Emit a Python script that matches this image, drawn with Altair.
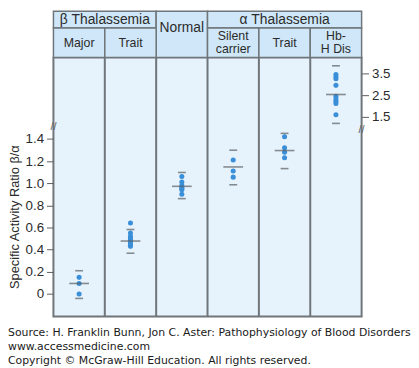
import altair as alt
import pandas as pd

# ---- data ----
columns = ["Major", "Trait", "Normal", "Silent carrier", "Trait", "Hb-H Dis"]

major = [0.15, 0.095, 0.0]
beta_trait = [0.64, 0.55, 0.52, 0.50, 0.49, 0.48, 0.47, 0.46, 0.44, 0.43]
normal = [1.06, 1.01, 0.98, 0.96, 0.95, 0.94, 0.90]
silent_carrier = [1.21, 1.11, 1.055]
alpha_trait = [1.42, 1.32, 1.28, 1.23]
hbh_dis = [3.45, 3.35, 3.25, 2.95, 2.45, 2.32, 2.22, 2.12, 1.6]

means = [0.095, 0.478, 0.972, 1.147, 1.295, 2.53]
upper = [0.21, 0.582, 1.097, 1.298, 1.45, 3.85]
lower = [-0.04, 0.368, 0.861, 0.986, 1.132, 1.2]

left_ticks = [0, 0.2, 0.4, 0.6, 0.8, 1.0, 1.2, 1.4]
right_ticks = [1.5, 2.5, 3.5]

header_labels = ["β Thalassemia", "Normal", "α Thalassemia", "Major", "Trait",
                 "Silent\ncarrier", "Trait", "Hb-\nH Dis"]
header_col_start = [0, 2, 3, 0, 1, 3, 4, 5]
header_col_end = [2, 3, 6, 1, 2, 4, 5, 6]
header_row_start = [0, 0, 0, 1, 1, 1, 1, 1]
header_row_end = [1, 2, 1, 2, 2, 2, 2, 2]

source_lines = [
    "Source: H. Franklin Bunn, Jon C. Aster: Pathophysiology of Blood Disorders",
    "www.accessmedicine.com",
    "Copyright © McGraw-Hill Education. All rights reserved.",
]

# ---- tables ----
series = [major, beta_trait, normal, silent_carrier, alpha_trait, hbh_dis]
dots = pd.DataFrame([
    {"col": i, "x": i + 0.5, "value": v}
    for i, s in enumerate(series) for v in s
])
stats = pd.DataFrame({
    "col": list(range(6)),
    "x": [i + 0.5 for i in range(6)],
    "mean": means, "upper": upper, "lower": lower,
})
bounds = pd.DataFrame({"b": [1, 2, 3, 4, 5]})
header = pd.DataFrame({
    "label": header_labels,
    "c0": header_col_start, "c1": header_col_end,
    "r0": header_row_start, "r1": header_row_end,
})
header["cx"] = (header["c0"] + header["c1"]) / 2
header["cy"] = (header["r0"] + header["r1"]) / 2
header["multi"] = header["label"].str.contains("\n")

BORDER = "#6f7579"
PANEL = "#e6f2fc"
HEAD = "#cfe7f8"
DOT = "#3a8fd8"
DARK = "#5a5f63"
TEXT = "#2b2b2b"
FONT = "Liberation Sans"

W = 312
xs = alt.Scale(domain=[0, 6], nice=False, zero=False)

# ---- header ----
hy = alt.Scale(domain=[0, 1, 2], range=[0, 17, 47])
head_rect = alt.Chart(header).mark_rect(fill=HEAD, stroke=BORDER, strokeWidth=1.5).encode(
    x=alt.X("c0:Q", scale=xs, axis=None), x2="c1:Q",
    y=alt.Y("r0:Q", scale=hy, axis=None), y2="r1:Q",
)
head_text1 = alt.Chart(header[~header.multi]).mark_text(
    font=FONT, color=TEXT, baseline="middle").encode(
    x=alt.X("cx:Q", scale=xs, axis=None),
    y=alt.Y("cy:Q", scale=hy, axis=None),
    text="label:N",
    size=alt.condition("datum.r0 == 0", alt.value(14), alt.value(12.5)),
)
head_text2 = alt.Chart(header[header.multi]).mark_text(
    font=FONT, color=TEXT, baseline="middle", lineBreak="\n", lineHeight=13,
    fontSize=12.5, dy=-6.5).encode(
    x=alt.X("cx:Q", scale=xs, axis=None),
    y=alt.Y("cy:Q", scale=hy, axis=None),
    text="label:N",
)
header_chart = alt.layer(head_rect, head_text1, head_text2).properties(
    width=W, height=47, view=alt.ViewBackground(stroke=None)
)

# ---- body ----
yl = alt.Scale(domain=[-0.2024, 2.134], nice=False, zero=False)
yr = alt.Scale(domain=[-7.68, 4.227], nice=False, zero=False)

left_axis = alt.Axis(
    values=left_ticks, domain=False, grid=False, tickSize=7, tickColor=DARK, tickWidth=1,
    labelExpr="datum.value == 0 ? '0' : format(datum.value, '.1f')",
    labelFont=FONT, labelFontSize=13.5, labelColor=TEXT, labelPadding=3,
    labelOverlap=False, labelBound=False, labelFlush=False,
    title="Specific Activity Ratio β/α", titleFont=FONT, titleFontSize=13,
    titleFontWeight="normal", titleColor=TEXT, titleX=-45, titleY=161,
    titleBaseline="top",
)
right_axis = alt.Axis(
    orient="right", values=right_ticks, format=".1f", domain=False, grid=False,
    tickSize=7, tickColor=DARK, tickWidth=1, labelFont=FONT, labelFontSize=13.5,
    labelColor=TEXT, labelPadding=3, labelOverlap=False, labelFlush=False, title=None,
)

left_dots = dots[dots.col < 5]
left_stats = stats[stats.col < 5]
right_dots = dots[dots.col == 5]
right_stats = stats[stats.col == 5]


def layer_for(dots_df, stats_df, scale, axis, break_x, break_y):
    d = alt.Chart(dots_df).mark_circle(size=26, color=DOT, opacity=1).encode(
        x=alt.X("x:Q", scale=xs, axis=None),
        y=alt.Y("value:Q", scale=scale, axis=axis),
    )
    m = alt.Chart(stats_df).mark_tick(orient="horizontal", size=20, thickness=1.6,
                                      color=DARK).encode(
        x=alt.X("x:Q", scale=xs, axis=None), y=alt.Y("mean:Q", scale=scale, axis=axis)
    )
    u = alt.Chart(stats_df).mark_tick(orient="horizontal", size=8, thickness=1.6,
                                      color=DARK).encode(
        x=alt.X("x:Q", scale=xs, axis=None), y=alt.Y("upper:Q", scale=scale, axis=axis)
    )
    lo = alt.Chart(stats_df).mark_tick(orient="horizontal", size=8, thickness=1.6,
                                       color=DARK).encode(
        x=alt.X("x:Q", scale=xs, axis=None), y=alt.Y("lower:Q", scale=scale, axis=axis)
    )
    br = alt.Chart(pd.DataFrame({"x": [break_x], "y": [break_y]})).mark_text(
        text="//", font=FONT, fontSize=11, color=DARK).encode(
        x=alt.X("x:Q", scale=xs, axis=None), y=alt.Y("y:Q", scale=scale, axis=axis)
    )
    return [d, m, u, lo, br]


sep = alt.Chart(bounds).mark_rule(color=BORDER, strokeWidth=2).encode(
    x=alt.X("b:Q", scale=xs, axis=None)
)
left_layer = alt.layer(sep, *layer_for(left_dots, left_stats, yl, left_axis, 0, 1.51))
right_layer = alt.layer(*layer_for(right_dots, right_stats, yr, right_axis, 6, 0.91))

body = alt.layer(left_layer, right_layer).resolve_scale(y="independent").properties(
    width=W, height=262,
    view=alt.ViewBackground(fill=PANEL, stroke=BORDER, strokeWidth=2),
)

chart = alt.vconcat(header_chart, body, spacing=0, bounds="flush").properties(
    padding=0,
    title=alt.TitleParams(
        text=source_lines, orient="bottom", anchor="start", font="DejaVu Sans",
        fontSize=11, fontWeight="normal", color="#1a1a1a", lineHeight=14,
        offset=9, dx=0,
    ),
).configure_view(stroke=None)

chart.save("out.html", embed_options={"renderer": "svg", "actions": False})
